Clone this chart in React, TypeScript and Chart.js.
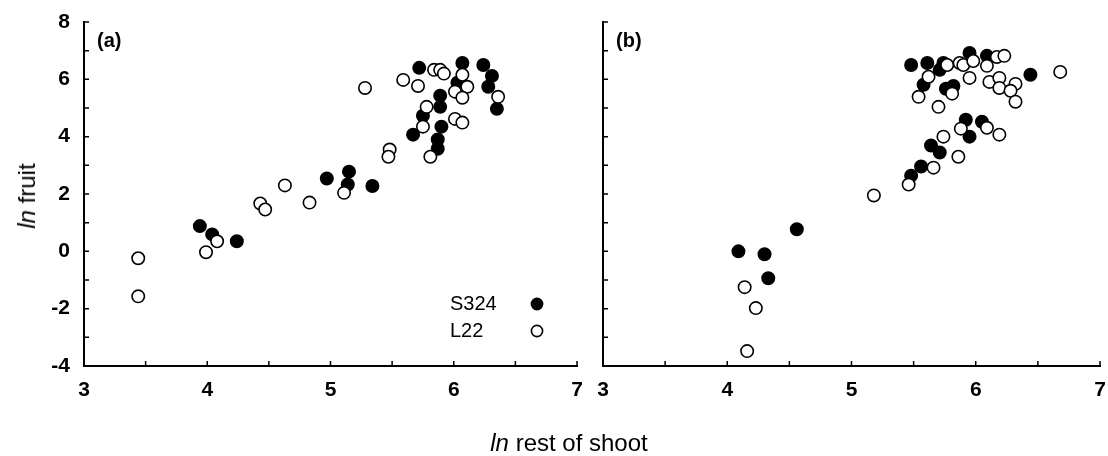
import React, { useEffect, useRef } from "react";
import { Chart, registerables } from "chart.js";

Chart.register(...registerables);

// Panel (a)
const aS324X = [5.72, 6.07, 6.24, 6.31, 6.28, 6.35, 6.03, 5.89, 5.89, 5.75, 5.67, 5.90, 5.87, 5.87, 5.15, 5.14, 5.34, 4.97, 3.94, 4.04, 4.24];
const aS324Y = [6.40, 6.57, 6.50, 6.12, 5.74, 4.97, 5.88, 5.43, 5.04, 4.73, 4.07, 4.35, 3.90, 3.58, 2.78, 2.33, 2.28, 2.54, 0.88, 0.59, 0.35];
const aL22X = [5.28, 5.59, 5.71, 5.84, 5.89, 5.92, 6.07, 6.36, 6.11, 6.01, 6.07, 5.78, 5.75, 6.01, 6.07, 5.81, 5.48, 5.47, 5.11, 4.63, 4.43, 4.47, 4.83, 4.08, 3.99, 3.44, 3.44];
const aL22Y = [5.70, 5.98, 5.77, 6.33, 6.33, 6.20, 6.16, 5.39, 5.74, 5.57, 5.36, 5.04, 4.35, 4.62, 4.49, 3.30, 3.55, 3.30, 2.04, 2.30, 1.67, 1.46, 1.70, 0.35, -0.03, -0.24, -1.57];

// Panel (b)
const bS324X = [4.09, 4.30, 4.33, 4.56, 5.48, 5.56, 5.64, 5.71, 5.92, 5.95, 6.05, 5.48, 5.61, 5.58, 5.74, 5.71, 5.76, 5.82, 5.95, 6.09, 6.44];
const bS324Y = [0.00, -0.10, -0.94, 0.77, 2.64, 2.96, 3.69, 3.45, 4.59, 4.00, 4.52, 6.50, 6.57, 5.81, 6.57, 6.33, 5.67, 5.77, 6.92, 6.82, 6.16];
const bL22X = [4.14, 4.23, 4.16, 5.18, 5.46, 5.66, 5.74, 5.86, 5.88, 6.09, 6.19, 5.62, 5.54, 5.77, 5.81, 5.70, 5.87, 5.90, 5.98, 5.95, 6.09, 6.17, 6.23, 6.11, 6.19, 6.19, 6.32, 6.28, 6.32, 6.68];
const bL22Y = [-1.25, -1.98, -3.48, 1.95, 2.33, 2.92, 4.00, 3.30, 4.28, 4.31, 4.07, 6.09, 5.39, 6.50, 5.50, 5.04, 6.57, 6.50, 6.64, 6.05, 6.47, 6.78, 6.82, 5.91, 6.05, 5.70, 5.84, 5.60, 5.22, 6.26];

const xMin = 3;
const xMax = 7;
const yMin = -4;
const yMax = 8;
const seriesNames = ["S324", "L22"];
const panelLabels = ["(a)", "(b)"];

const FONT = "'Liberation Sans', Arial, Helvetica, sans-serif";

const toPts = (xs: number[], ys: number[]) => xs.map((x, i) => ({ x, y: ys[i] }));

const inwardTicks = {
  id: "inwardTicks",
  afterDraw(chart: any) {
    const ctx = chart.ctx;
    const xs = chart.scales.x;
    const ys = chart.scales.y;
    const area = chart.chartArea;
    ctx.save();
    ctx.strokeStyle = "#000";
    ctx.lineWidth = 1.5;
    ctx.beginPath();
    xs.ticks.forEach((t: any) => {
      const px = xs.getPixelForValue(t.value);
      ctx.moveTo(px, area.bottom);
      ctx.lineTo(px, area.bottom - 5);
    });
    ys.ticks.forEach((t: any) => {
      const py = ys.getPixelForValue(t.value);
      ctx.moveTo(area.left, py);
      ctx.lineTo(area.left + 5, py);
    });
    ctx.stroke();
    ctx.restore();
  },
};

const panelText = {
  id: "panelText",
  afterDraw(chart: any, _args: any, opts: any) {
    const ctx = chart.ctx;
    const area = chart.chartArea;
    ctx.save();
    ctx.fillStyle = "#000";
    ctx.font = `bold 20px ${FONT}`;
    ctx.textBaseline = "middle";
    ctx.textAlign = "left";
    ctx.fillText(opts.label, area.left + 13, area.top + 19);
    if (opts.legend) {
      ctx.font = `20px ${FONT}`;
      const lx = area.left + 366;
      const mx = area.left + 453;
      const rows = [
        { name: seriesNames[0], fill: "#000", dy: 282 },
        { name: seriesNames[1], fill: "#fff", dy: 309 },
      ];
      rows.forEach((r) => {
        const y = area.top + r.dy;
        ctx.fillStyle = "#000";
        ctx.fillText(r.name, lx, y);
        ctx.beginPath();
        ctx.arc(mx, y, 5.6, 0, Math.PI * 2);
        ctx.fillStyle = r.fill;
        ctx.fill();
        ctx.lineWidth = 1.6;
        ctx.strokeStyle = "#000";
        ctx.stroke();
      });
    }
    ctx.restore();
  },
};

function makeConfig(
  s324: { x: number; y: number }[],
  l22: { x: number; y: number }[],
  yLeftWidth: number,
  showYLabels: boolean,
  label: string,
  legend: boolean,
  padRight: number
): any {
  return {
    type: "scatter",
    data: {
      datasets: [
        {
          label: seriesNames[1],
          data: l22,
          pointRadius: 6.2,
          pointHoverRadius: 6.2,
          pointBackgroundColor: "#fff",
          pointBorderColor: "#000",
          pointBorderWidth: 1.6,
        },
        {
          label: seriesNames[0],
          data: s324,
          pointRadius: 6.2,
          pointHoverRadius: 6.2,
          pointBackgroundColor: "#000",
          pointBorderColor: "#000",
          pointBorderWidth: 1.6,
        },
      ],
    },
    options: {
      animation: false,
      responsive: false,
      maintainAspectRatio: false,
      layout: { padding: { top: 22, right: padRight, left: 0, bottom: 0 } },
      plugins: {
        legend: { display: false },
        tooltip: { enabled: false },
        panelText: { label, legend },
      },
      scales: {
        x: {
          type: "linear",
          min: xMin,
          max: xMax,
          grid: { display: false, drawTicks: false },
          border: { display: true, color: "#000", width: 2 },
          ticks: {
            stepSize: 0.5,
            autoSkip: false,
            maxRotation: 0,
            padding: 12,
            color: "#000",
            font: { family: FONT, size: 21, weight: "bold" },
            callback: (v: number) => (Number.isInteger(v) ? String(v) : ""),
          },
          afterFit: (s: any) => {
            s.height = 54;
            s.paddingLeft = 0;
            s.paddingRight = 0;
          },
        },
        y: {
          type: "linear",
          min: yMin,
          max: yMax,
          grid: { display: false, drawTicks: false },
          border: { display: true, color: "#000", width: 2 },
          ticks: {
            stepSize: 1,
            autoSkip: false,
            padding: 14,
            color: "#000",
            font: { family: FONT, size: 21, weight: "bold" },
            callback: (v: number) => (showYLabels && v % 2 === 0 ? String(v) : ""),
          },
          afterFit: (s: any) => {
            s.width = yLeftWidth;
            s.paddingTop = 0;
            s.paddingBottom = 0;
          },
        },
      },
    },
    plugins: [inwardTicks, panelText],
  };
}

export default function App() {
  const leftRef = useRef<HTMLCanvasElement | null>(null);
  const rightRef = useRef<HTMLCanvasElement | null>(null);

  useEffect(() => {
    const c1 = new Chart(
      leftRef.current as HTMLCanvasElement,
      makeConfig(toPts(aS324X, aS324Y), toPts(aL22X, aL22Y), 84, true, panelLabels[0], true, 15)
    );
    const c2 = new Chart(
      rightRef.current as HTMLCanvasElement,
      makeConfig(toPts(bS324X, bS324Y), toPts(bL22X, bL22Y), 11, false, panelLabels[1], false, 8)
    );
    return () => {
      c1.destroy();
      c2.destroy();
    };
  }, []);

  return (
    <div
      style={{
        position: "fixed",
        left: 0,
        top: 0,
        width: 1108,
        height: 456,
        background: "#fff",
        fontFamily: FONT,
      }}
    >
      <canvas
        ref={leftRef}
        width={592}
        height={420}
        style={{ position: "absolute", left: 0, top: 0, width: 592, height: 420 }}
      />
      <canvas
        ref={rightRef}
        width={516}
        height={420}
        style={{ position: "absolute", left: 592, top: 0, width: 516, height: 420 }}
      />
      <div
        style={{
          position: "absolute",
          left: 27,
          top: 196,
          transform: "translate(-50%, -50%) rotate(-90deg)",
          fontSize: 24,
          whiteSpace: "nowrap",
          color: "#000",
        }}
      >
        <i>ln</i> fruit
      </div>
      <div
        style={{
          position: "absolute",
          left: 569,
          top: 443,
          transform: "translate(-50%, -50%)",
          fontSize: 24,
          whiteSpace: "nowrap",
          color: "#000",
        }}
      >
        <i>ln</i> rest of shoot
      </div>
    </div>
  );
}
